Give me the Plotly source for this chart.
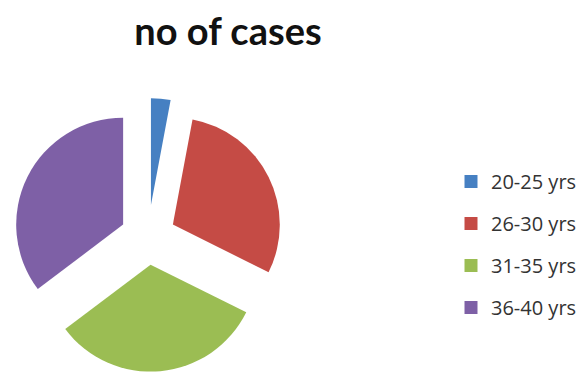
import plotly.graph_objects as go

# Age-group breakdown
age_groups = ["20-25 yrs", "26-30 yrs", "31-35 yrs", "36-40 yrs"]
no_of_cases = [1, 10, 11, 12]
slice_colors = ["#4680C2", "#C54B45", "#9BBD53", "#7E60A6"]
slice_pull = [0.30, 0.26, 0.26, 0.26]

W, H = 587, 376

# Square pie box (pixels), centred on the pie's unexploded centre
cx, cy, half = 148, 237, 139
dom_x = [(cx - half) / W, (cx + half) / W]
dom_y = [max(0.0, 1 - (cy + half) / H), 1 - (cy - half) / H]

fig = go.Figure()

fig.add_trace(go.Pie(
    labels=age_groups,
    values=no_of_cases,
    marker=dict(colors=slice_colors, line=dict(width=0)),
    pull=slice_pull,
    sort=False,
    direction="clockwise",
    rotation=0,
    textinfo="none",
    hoverinfo="label+value+percent",
    showlegend=False,
    domain=dict(x=dom_x, y=dom_y),
))

# Legend entries, one group per age band so the rows can be spaced apart
for name, col in zip(age_groups, slice_colors):
    fig.add_trace(go.Scatter(
        x=[None], y=[None], mode="markers", name=name, legendgroup=name,
        marker=dict(symbol="square", size=13, color=col),
        hoverinfo="skip",
    ))

fig.update_layout(
    width=W, height=H,
    margin=dict(l=0, r=0, t=0, b=0),
    paper_bgcolor="white",
    plot_bgcolor="white",
    xaxis=dict(visible=False),
    yaxis=dict(visible=False),
    title=dict(
        text="no of cases",
        x=228 / W, xanchor="center", xref="paper",
        y=1 - 31.7 / H, yanchor="middle", yref="container",
        font=dict(family="Lato", size=38, color="#111111", weight="bold"),
    ),
    legend=dict(
        x=451 / W, xanchor="left",
        y=1 - 162 / H, yanchor="top",
        font=dict(family="Open Sans", size=20, color="#333333"),
        tracegroupgap=13,
        bgcolor="rgba(0,0,0,0)",
        borderwidth=0,
    ),
)

fig.write_html("out.html")
